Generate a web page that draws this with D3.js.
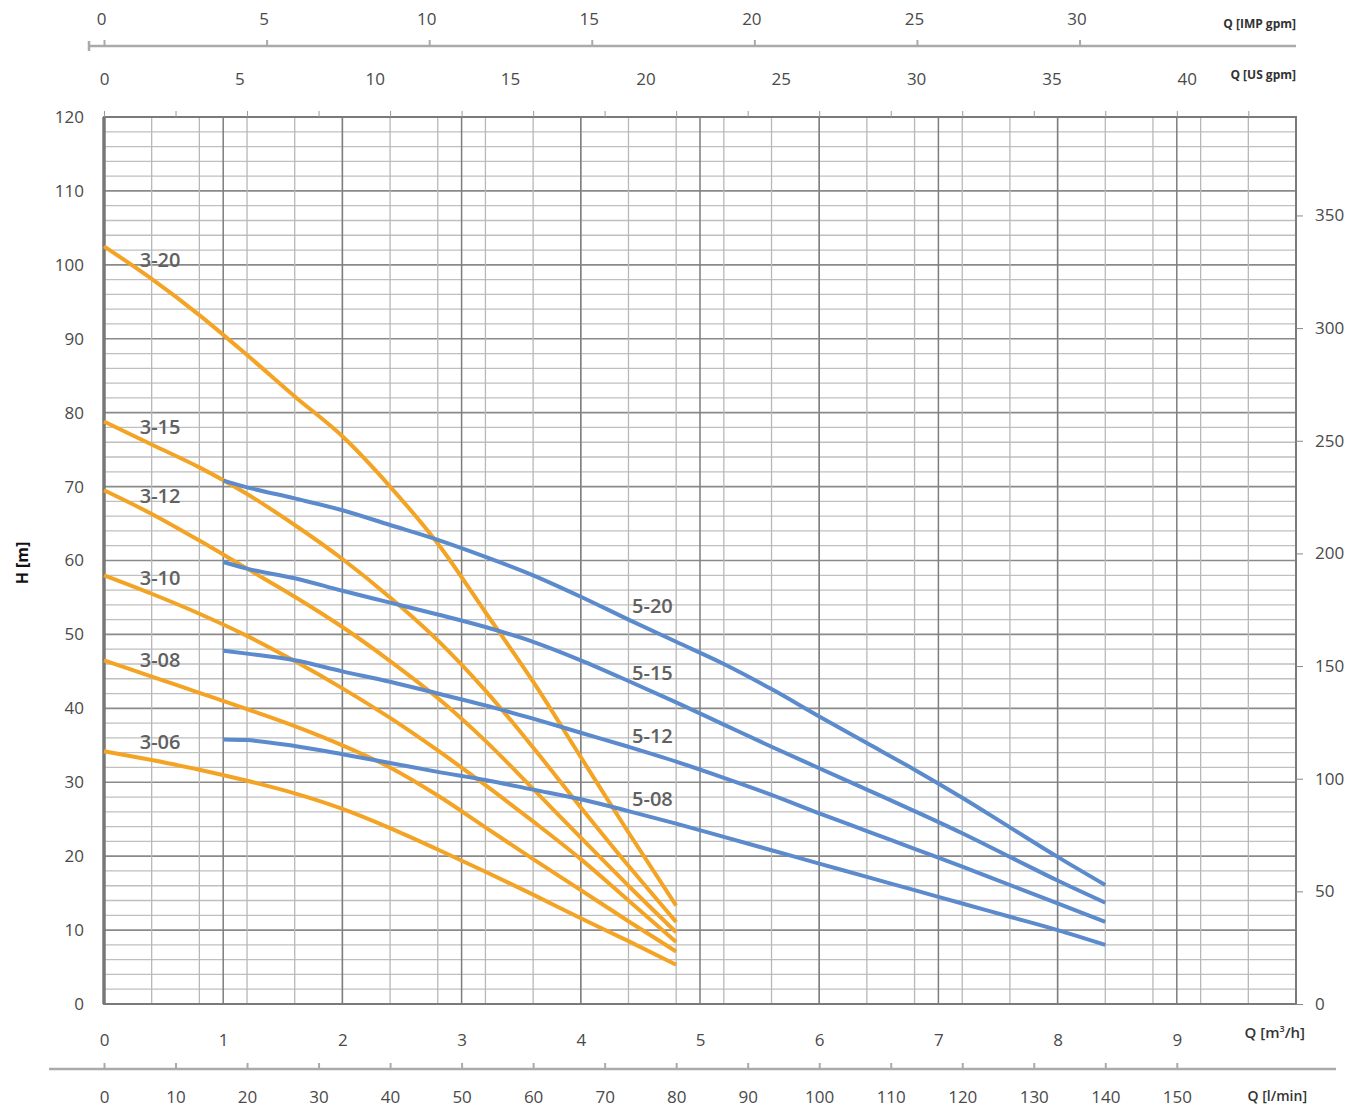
<!DOCTYPE html>
<html lang="en">
<head>
  <meta charset="UTF-8">
  <title>Pump curves H-Q</title>
  <script src="https://d3js.org/d3.v7.min.js"></script>
  <style>
    body {
      margin: 0;
      background-color: #ffffff;
      font-family: "Open Sans", Arial, sans-serif;
    }
    .tick text {
      font-family: "Open Sans", Arial, sans-serif;
      font-size: 17px;
      fill: #4a4a4a;
    }
    .unit {
      font-family: "Open Sans", Arial, sans-serif;
      font-weight: 700;
      fill: #333;
    }
    .curve-label {
      font-family: "Open Sans", Arial, sans-serif;
      font-size: 20px;
      font-weight: 600;
      fill: #616161;
    }
  </style>
</head>
<body>
  <div id="chart"></div>

  <script>
    const q3 = [0, 0.4, 0.8, 1.2, 1.6, 2.0, 2.4, 2.8, 3.2, 3.6, 4.0, 4.4, 4.8];
    const q5 = [1.0, 1.2, 1.6, 2.0, 2.4, 2.8, 3.2, 3.6, 4.0, 4.4, 4.8, 5.2, 5.6, 6.0, 6.4, 6.8, 7.2, 7.6, 8.0, 8.4];

    // Head (m) for the 3" pumps
    const h320 = [102.5, 98.1, 93.2, 87.8, 82.2, 76.8, 70.0, 62.3, 53.0, 43.6, 33.4, 23.2, 13.3];
    const h315 = [78.8, 75.7, 72.6, 69.0, 64.8, 60.2, 55.0, 49.2, 42.4, 34.7, 26.6, 18.7, 11.1];
    const h312 = [69.5, 66.3, 62.7, 58.9, 55.1, 51.0, 46.4, 41.4, 35.6, 29.1, 22.5, 16.0, 9.7];
    const h310 = [58.0, 55.5, 52.8, 49.8, 46.4, 42.7, 38.7, 34.3, 29.6, 24.7, 19.6, 14.0, 8.4];
    const h308 = [46.5, 44.3, 42.1, 39.9, 37.6, 35.0, 32.0, 28.2, 23.9, 19.6, 15.4, 11.2, 7.1];
    const h306 = [34.2, 33.0, 31.7, 30.2, 28.5, 26.4, 23.8, 20.9, 17.9, 14.8, 11.6, 8.5, 5.3];

    // Head (m) for the 5" pumps
    const h520 = [70.8, 69.9, 68.4, 66.8, 64.8, 62.8, 60.5, 58.0, 55.1, 52.0, 49.0, 46.0, 42.6, 38.9, 35.3, 31.7, 27.9, 23.9, 19.9, 16.1];
    const h515 = [59.8, 58.9, 57.6, 55.9, 54.3, 52.7, 51.0, 49.0, 46.5, 43.7, 40.8, 37.8, 34.8, 31.9, 29.0, 26.1, 23.1, 19.9, 16.7, 13.7];
    const h512 = [47.8, 47.4, 46.5, 45.0, 43.6, 42.0, 40.4, 38.6, 36.7, 34.8, 32.8, 30.6, 28.3, 25.8, 23.4, 21.0, 18.6, 16.1, 13.6, 11.1];
    const h508 = [35.8, 35.7, 34.9, 33.8, 32.6, 31.4, 30.3, 29.0, 27.7, 26.1, 24.4, 22.6, 20.8, 19.0, 17.2, 15.4, 13.6, 11.8, 10.0, 8.0];

    const names3 = ['3-20', '3-15', '3-12', '3-10', '3-08', '3-06'];
    const names5 = ['5-20', '5-15', '5-12', '5-08'];

    // Where each curve name sits, in chart units [Q m3/h, H m]
    const label3At = [[0.3, 100.6], [0.3, 78.1], [0.3, 68.7], [0.3, 57.6], [0.3, 46.5], [0.3, 35.4]];
    const label5At = [[4.43, 53.8], [4.43, 44.8], [4.43, 36.3], [4.43, 27.7]];

    // Tick values for the scales
    const m3hTicks = d3.range(0, 10, 1);
    const lminTicks = d3.range(0, 151, 10);
    const usTicks = d3.range(0, 41, 5);
    const impTicks = d3.range(0, 31, 5);
    const hTicks = d3.range(0, 121, 10);
    const ftTicks = d3.range(0, 351, 50);

    // unit conversions
    const M3H_PER_US = 0.2271;
    const M3H_PER_IMP = 0.2728;
    const M_PER_FT = 0.3048;

    const W = 1352, H = 1110;
    const plot = { left: 104, right: 1296, top: 117, bottom: 1004 };

    const x = d3.scaleLinear().domain([0, 10]).range([plot.left, plot.right]);
    const y = d3.scaleLinear().domain([0, 120]).range([plot.bottom, plot.top]);
    const xLmin = d3.scaleLinear().domain([0, 10 * 1000 / 60]).range([plot.left, plot.right]);
    const xUs = d3.scaleLinear().domain([0, 10 / M3H_PER_US]).range([plot.left, plot.right]);
    const xImp = d3.scaleLinear().domain([0, 10 / M3H_PER_IMP]).range([plot.left, plot.right]);
    const yFt = d3.scaleLinear().domain([0, 120 / M_PER_FT]).range([plot.bottom, plot.top]);

    const svg = d3.select('#chart')
      .append('svg')
      .attr('width', W)
      .attr('height', H);

    // grid
    const grid = svg.append('g');
    grid.selectAll('.hmin')
      .data(d3.range(0, 121, 2))
      .enter()
      .append('line')
      .attr('x1', plot.left).attr('x2', plot.right)
      .attr('y1', d => y(d)).attr('y2', d => y(d))
      .attr('stroke', d => d % 10 === 0 ? '#8a8a8a' : '#bfbfbf')
      .attr('stroke-width', d => d % 10 === 0 ? 1.6 : 1.3);

    grid.selectAll('.vmin')
      .data(d3.range(0, 25).map(i => i * 0.4))
      .enter()
      .append('line')
      .attr('x1', d => x(d)).attr('x2', d => x(d))
      .attr('y1', plot.top).attr('y2', plot.bottom)
      .attr('stroke', '#b8b8b8')
      .attr('stroke-width', 1.3);

    grid.selectAll('.vmaj')
      .data(d3.range(1, 10))
      .enter()
      .append('line')
      .attr('x1', d => x(d)).attr('x2', d => x(d))
      .attr('y1', plot.top).attr('y2', plot.bottom)
      .attr('stroke', '#7d7d7d')
      .attr('stroke-width', 1.5);

    // frame
    svg.append('rect')
      .attr('x', plot.left).attr('y', plot.top)
      .attr('width', plot.right - plot.left)
      .attr('height', plot.bottom - plot.top)
      .attr('fill', 'none')
      .attr('stroke', '#7a7a7a')
      .attr('stroke-width', 2);
    svg.append('line')
      .attr('x1', plot.left).attr('x2', plot.left)
      .attr('y1', plot.top).attr('y2', plot.bottom)
      .attr('stroke', '#777')
      .attr('stroke-width', 3.5);

    // curves
    const line = d3.line()
      .x(d => x(d[0]))
      .y(d => y(d[1]))
      .curve(d3.curveMonotoneX);

    const series3 = [h320, h315, h312, h310, h308, h306];
    const series5 = [h520, h515, h512, h508];

    svg.append('g').selectAll('path')
      .data(series3)
      .enter()
      .append('path')
      .attr('d', hs => line(q3.map((q, i) => [q, hs[i]])))
      .attr('fill', 'none')
      .attr('stroke', '#f4a425')
      .attr('stroke-width', 4)
      .attr('stroke-linejoin', 'round');

    svg.append('g').selectAll('path')
      .data(series5)
      .enter()
      .append('path')
      .attr('d', hs => line(q5.map((q, i) => [q, hs[i]])))
      .attr('fill', 'none')
      .attr('stroke', '#5b8bcc')
      .attr('stroke-width', 4)
      .attr('stroke-linejoin', 'round');

    // curve names
    svg.append('g').selectAll('text')
      .data(names3.map((n, i) => [n, label3At[i]]).concat(names5.map((n, i) => [n, label5At[i]])))
      .enter()
      .append('text')
      .attr('class', 'curve-label')
      .attr('x', d => x(d[1][0]))
      .attr('y', d => y(d[1][1]))
      .attr('dy', '0.35em')
      .text(d => d[0]);

    // left H axis
    svg.append('g')
      .attr('transform', `translate(${plot.left},0)`)
      .call(d3.axisLeft(y).tickValues(hTicks).tickSize(0).tickPadding(20))
      .call(g => g.select('.domain').remove());

    // right axis in feet
    svg.append('g')
      .attr('transform', `translate(${plot.right},0)`)
      .call(d3.axisRight(yFt).tickValues(ftTicks).tickSize(7).tickPadding(12).tickSizeOuter(0))
      .call(g => g.select('.domain').remove())
      .call(g => g.selectAll('.tick line').attr('stroke', '#888'));

    // bottom m3/h labels
    svg.append('g')
      .attr('transform', `translate(0,${plot.bottom})`)
      .call(d3.axisBottom(x).tickValues(m3hTicks).tickSize(0).tickPadding(30))
      .call(g => g.select('.domain').remove());

    // small ticks along the top of the frame (l/min)
    svg.append('g')
      .attr('transform', `translate(0,${plot.top})`)
      .call(d3.axisTop(xLmin).tickValues(lminTicks.concat([160])).tickSize(6).tickFormat(''))
      .call(g => g.select('.domain').remove())
      .call(g => g.selectAll('.tick line').attr('stroke', '#999'));

    // l/min axis below the chart
    const lminY = 1069;
    svg.append('line')
      .attr('x1', 49).attr('x2', 1336)
      .attr('y1', lminY).attr('y2', lminY)
      .attr('stroke', '#aaa')
      .attr('stroke-width', 2.5);
    svg.append('g')
      .attr('transform', `translate(0,${lminY})`)
      .call(d3.axisBottom(xLmin).tickValues(lminTicks).tickSizeInner(-6).tickSizeOuter(0).tickPadding(22))
      .call(g => g.select('.domain').remove())
      .call(g => g.selectAll('.tick line').attr('stroke', '#aaa').attr('stroke-width', 2));

    // IMP gpm axis on top
    const impY = 46;
    svg.append('line')
      .attr('x1', 89).attr('x2', plot.right)
      .attr('y1', impY).attr('y2', impY)
      .attr('stroke', '#aaa')
      .attr('stroke-width', 2.5);
    svg.append('line')
      .attr('x1', 89).attr('x2', 89)
      .attr('y1', impY - 5).attr('y2', impY + 5)
      .attr('stroke', '#aaa')
      .attr('stroke-width', 2.5);
    svg.append('g')
      .attr('transform', `translate(0,${impY})`)
      .call(d3.axisTop(xImp).tickValues(impTicks).tickSize(6).tickPadding(15))
      .call(g => g.select('.domain').remove())
      .call(g => g.selectAll('.tick line').attr('stroke', '#aaa').attr('stroke-width', 2))
      .call(g => g.selectAll('.tick text').attr('dx', '-3'));

    // US gpm labels (no line)
    svg.append('g')
      .attr('transform', `translate(0,85)`)
      .call(d3.axisTop(xUs).tickValues(usTicks).tickSize(0).tickPadding(0))
      .call(g => g.select('.domain').remove());

    // unit captions
    svg.append('text').attr('class', 'unit')
      .attr('x', 1296).attr('y', 28).attr('text-anchor', 'end')
      .style('font-size', '12px')
      .text('Q [IMP gpm]');
    svg.append('text').attr('class', 'unit')
      .attr('x', 1296).attr('y', 79).attr('text-anchor', 'end')
      .style('font-size', '12px')
      .text('Q [US gpm]');
    const m3 = svg.append('text').attr('class', 'unit')
      .attr('x', 1305).attr('y', 1038).attr('text-anchor', 'end')
      .style('font-size', '15px')
      .style('font-weight', 600);
    m3.append('tspan').text('Q [m');
    m3.append('tspan').attr('dy', -6).style('font-size', '9px').text('3');
    m3.append('tspan').attr('dy', 6).text('/h]');
    svg.append('text').attr('class', 'unit')
      .attr('x', 1307).attr('y', 1101).attr('text-anchor', 'end')
      .style('font-size', '14px')
      .style('font-weight', 600)
      .text('Q [l/min]');

    svg.append('text')
      .attr('class', 'unit')
      .attr('transform', 'translate(28,563) rotate(-90)')
      .attr('text-anchor', 'middle')
      .style('font-size', '16px')
      .style('fill', '#111')
      .text('H [m]');
  </script>
</body>
</html>
